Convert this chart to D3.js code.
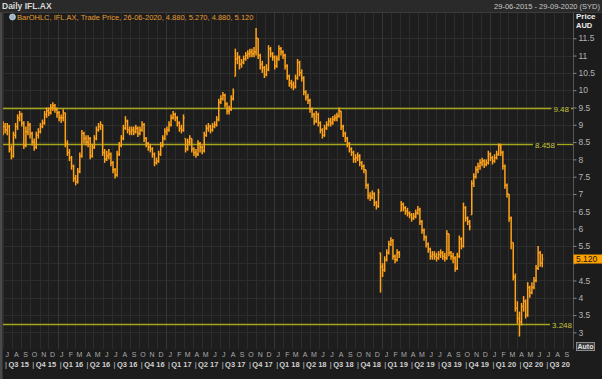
<!DOCTYPE html>
<html><head><meta charset="utf-8">
<script src="https://cdn.jsdelivr.net/npm/d3@7"></script>
<style>
html,body{margin:0;padding:0;background:#1c1c1c;}
svg{display:block;font-family:"Liberation Sans",Arial,sans-serif;}
</style></head><body>
<svg id="c" width="602" height="379"></svg>
<script>
// ---------------- data ----------------
const titleText = "Daily IFL.AX";
const rangeText = "29-06-2015 - 29-09-2020 (SYD)";
const legendText = "BarOHLC, IFL.AX, Trade Price, 26-06-2020, 4.880, 5.270, 4.880, 5.120";
const domainStart = "2015-06-29";
const domainEnd = "2020-09-29";
const firstWeek = "2015-06-29";   // one OHLC bar per week from here
const firstOpen = 8.85;
const closes = [
8.95,8.85,8.95,8.3,8.1,8.7,8.95,9.2,9.3,9.05,
8.4,8.8,9.0,8.75,8.5,8.35,8.7,8.8,8.95,9.05,
9.3,9.4,9.35,9.5,9.55,9.45,9.35,9.2,9.2,9.35,
8.45,8.2,8.05,7.8,7.45,7.35,7.65,8.1,8.75,8.6,
8.5,8.6,8.1,8.35,8.6,8.85,8.95,9.0,8.2,8.0,
8.1,8.15,7.9,7.7,7.55,8.15,8.4,8.6,8.9,9.1,
8.85,8.8,8.85,8.8,8.9,8.75,8.85,9.0,8.6,8.45,
8.35,8.3,8.15,7.9,7.95,8.15,8.4,8.6,8.8,8.85,
9.0,9.2,9.3,9.2,9.05,8.9,8.85,9.2,8.3,8.5,
8.6,8.3,8.2,8.15,8.45,8.35,8.25,8.7,8.9,8.95,
8.85,8.95,9.0,9.15,9.65,9.75,9.85,9.6,9.4,9.45,
9.75,9.95,10.9,10.95,10.75,10.8,10.9,11.0,11.05,11.1,
11.05,11.1,11.5,11.0,10.75,10.65,10.45,10.6,11.2,11.05,
10.95,10.7,10.9,11.2,11.1,11.0,10.7,10.4,10.2,10.15,
10.1,10.35,10.8,10.5,10.35,9.95,9.8,9.7,9.45,9.3,
9.1,9.3,9.05,8.85,8.7,8.9,9.0,9.1,9.05,9.15,
9.2,9.25,9.4,8.95,8.75,8.6,8.45,8.3,8.2,8.0,
8.05,8.1,7.9,7.8,7.7,7.25,6.95,6.9,7.0,6.75,
6.65,7.05,4.9,4.8,5.1,5.3,5.55,5.65,5.2,5.1,
5.3,5.25,6.7,6.6,6.5,6.45,6.4,6.3,6.35,6.45,
6.55,6.2,5.95,5.75,5.55,5.4,5.2,5.25,5.2,5.15,
5.25,5.3,5.2,5.15,5.85,5.3,5.2,5.15,4.85,5.2,
5.7,5.5,6.6,6.3,6.2,6.05,7.3,7.5,7.7,7.8,
7.9,7.95,7.85,7.9,8.15,8.05,7.95,8.05,8.15,8.4,
8.2,7.8,7.25,7.0,6.3,5.6,4.6,3.7,3.4,3.3,
3.75,3.9,3.5,4.3,4.15,4.3,4.5,4.85,5.3,5.0,
5.12];
const highs = [
9.1,9.05,9.05,9.0,8.4,8.8,9.05,9.3,9.4,9.35,
9.1,8.95,9.1,9.05,8.8,8.6,8.8,8.9,9.05,9.15,
9.4,9.5,9.5,9.6,9.65,9.6,9.5,9.4,9.3,9.45,
9.35,8.55,8.3,8.1,7.85,7.55,7.75,8.2,8.85,8.8,
8.7,8.7,8.65,8.45,8.7,8.95,9.05,9.1,9.0,8.3,
8.25,8.3,8.2,7.95,7.75,8.25,8.5,8.7,9.0,9.25,
9.15,8.95,8.95,8.95,9.0,8.95,8.95,9.1,9.05,8.65,
8.5,8.45,8.35,8.2,8.05,8.25,8.5,8.7,8.9,8.95,
9.1,9.3,9.4,9.35,9.25,9.1,9.0,9.3,8.6,8.6,
8.7,8.6,8.35,8.3,8.55,8.5,8.4,8.8,9.0,9.05,
9.0,9.05,9.1,9.25,9.75,9.85,9.95,9.9,9.65,9.55,
9.85,10.05,11.2,11.1,11.0,10.9,11.0,11.1,11.15,11.2,
11.2,11.25,11.8,11.5,11.05,10.85,10.7,10.75,11.3,11.25,
11.1,11.0,11.0,11.3,11.25,11.15,11.05,10.75,10.45,10.3,
10.25,10.45,10.9,10.85,10.6,10.4,10.0,9.9,9.75,9.5,
9.35,9.4,9.35,9.1,8.9,9.0,9.1,9.2,9.2,9.25,
9.3,9.35,9.5,9.4,9.0,8.8,8.65,8.5,8.35,8.25,
8.15,8.2,8.15,7.95,7.85,7.7,7.3,7.05,7.1,7.05,
6.8,7.15,5.3,5.0,5.2,5.4,5.65,5.75,5.7,5.25,
5.4,5.35,6.8,6.75,6.65,6.6,6.5,6.45,6.45,6.55,
6.65,6.6,6.25,6.0,5.8,5.6,5.45,5.35,5.35,5.3,
5.35,5.4,5.35,5.3,5.95,5.85,5.35,5.3,5.2,5.3,
5.8,5.75,6.75,6.65,6.35,6.25,7.4,7.6,7.8,7.9,
8.0,8.05,8.0,8.0,8.25,8.2,8.1,8.15,8.25,8.46,
8.45,8.25,7.85,7.3,7.0,6.35,5.6,4.7,3.9,3.6,
3.85,4.05,3.95,4.45,4.35,4.45,4.6,4.95,5.5,5.35,
5.27];
const lows = [
8.7,8.75,8.7,8.2,8.0,8.05,8.6,8.85,9.1,8.95,
8.3,8.35,8.7,8.6,8.4,8.25,8.3,8.6,8.75,8.9,
9.0,9.2,9.25,9.3,9.4,9.35,9.2,9.1,9.05,9.1,
8.35,8.1,7.95,7.7,7.35,7.25,7.3,7.6,8.05,8.45,
8.4,8.35,8.0,8.05,8.3,8.55,8.8,8.85,8.1,7.9,
7.95,8.0,7.8,7.6,7.45,7.5,8.1,8.35,8.55,8.85,
8.75,8.7,8.7,8.7,8.75,8.65,8.7,8.8,8.5,8.35,
8.25,8.2,8.05,7.8,7.85,7.9,8.1,8.35,8.55,8.7,
8.8,8.95,9.15,9.1,8.95,8.8,8.75,8.8,8.2,8.25,
8.4,8.2,8.1,8.05,8.1,8.2,8.15,8.2,8.65,8.8,
8.75,8.8,8.9,8.95,9.1,9.6,9.7,9.5,9.3,9.3,
9.4,9.7,10.4,10.75,10.6,10.65,10.75,10.85,10.9,10.95,
10.95,10.95,11.0,10.9,10.6,10.5,10.35,10.4,10.55,10.95,
10.85,10.6,10.65,10.85,11.0,10.9,10.6,10.3,10.1,10.05,
10.0,10.05,10.3,10.4,10.25,9.85,9.7,9.6,9.35,9.2,
9.0,9.05,8.95,8.75,8.6,8.65,8.85,8.95,8.95,9.0,
9.1,9.1,9.2,8.85,8.65,8.5,8.35,8.2,8.1,7.9,
7.9,7.95,7.8,7.7,7.6,7.15,6.85,6.8,6.85,6.65,
6.55,6.6,4.15,4.6,4.75,5.05,5.25,5.5,5.1,5.0,
5.05,5.15,6.5,6.5,6.4,6.35,6.3,6.2,6.25,6.3,
6.4,6.1,5.85,5.65,5.45,5.3,5.1,5.1,5.1,5.05,
5.1,5.15,5.1,5.05,5.1,5.2,5.1,5.0,4.75,4.8,
5.15,5.4,5.45,6.2,6.1,5.95,6.4,7.2,7.45,7.6,
7.7,7.8,7.75,7.8,7.85,7.95,7.85,7.9,8.0,8.1,
8.1,7.7,7.15,6.9,6.2,5.4,4.5,3.6,3.25,2.88,
3.2,3.6,3.4,3.45,4.0,4.1,4.25,4.45,4.8,4.9,
4.88];
const refLevels = [9.48, 8.458, 3.248];
const refLabels = ["9.48", "8.458", "3.248"];
const priceTicks = [3,3.5,4,4.5,5,5.5,6,6.5,7,7.5,8,8.5,9,9.5,10,10.5,11,11.5];
const lastPrice = 5.12;
const lastPriceLabel = "5.120";
const monthLetters = ["J","F","M","A","M","J","J","A","S","O","N","D"];

// ---------------- layout ----------------
const W = 602, H = 379;
const P = {left: 3, right: 573, top: 13, bottom: 349};
const refLabelRight = [569, 555, 572];
const COL = {bg:"#1c1c1c", plot:"#1d1d1d", grid:"#2c2c2c", gridYear:"#363636",
  bar:"#ffa31a", ref:"#a6a61c", refText:"#c4c43a", axisText:"#b4b4b4", head:"#2a2a2a"};

const parse = d3.utcParse("%Y-%m-%d");
const t0 = parse(domainStart), t1 = parse(domainEnd);
const x = d3.scaleUtc().domain([t0, t1]).range([2.5, 571]);
const y = d3.scaleLinear().domain([2.52, 12.23]).range([P.bottom, P.top]);

const svg = d3.select("#c");
svg.append("rect").attr("width", W).attr("height", H).attr("fill", COL.bg);
svg.append("rect").attr("x",0).attr("y",0).attr("width",W).attr("height",12).attr("fill",COL.head);
svg.append("line").attr("x1",0).attr("x2",W).attr("y1",12.5).attr("y2",12.5).attr("stroke","#3c3c3c");
svg.append("rect").attr("x",P.left).attr("y",P.top).attr("width",P.right-P.left).attr("height",P.bottom-P.top).attr("fill",COL.plot);

const defs = svg.append("defs");
defs.append("clipPath").attr("id","clip").append("rect")
  .attr("x",P.left).attr("y",P.top).attr("width",P.right-P.left).attr("height",P.bottom-P.top);

// grid
const grid = svg.append("g").attr("clip-path","url(#clip)");
grid.selectAll("line.h").data(priceTicks).join("line")
  .attr("x1",P.left).attr("x2",P.right)
  .attr("y1",d=>Math.round(y(d))+0.5).attr("y2",d=>Math.round(y(d))+0.5)
  .attr("stroke",COL.grid);
const months = d3.utcMonth.range(d3.utcMonth.ceil(t0), t1);
grid.selectAll("line.v").data(months).join("line")
  .attr("x1",d=>Math.round(x(d))+0.5).attr("x2",d=>Math.round(x(d))+0.5)
  .attr("y1",P.top).attr("y2",P.bottom)
  .attr("stroke",d=>d.getUTCMonth()===0?COL.gridYear:COL.grid);

// reference lines
const refG = svg.append("g");
refLevels.forEach((lv,i)=>{
  const yy = Math.round(y(lv))+0.5;
  const t = refG.append("text").attr("x",refLabelRight[i]).attr("y",yy+3)
    .attr("text-anchor","end").attr("font-size",8).attr("fill",COL.refText).text(refLabels[i]);
  const w = t.node().getComputedTextLength();
  const lx0 = refLabelRight[i]-w-2, lx1 = refLabelRight[i]+2;
  refG.append("line").attr("x1",P.left).attr("x2",lx0).attr("y1",yy).attr("y2",yy)
    .attr("stroke",COL.ref).attr("stroke-width",1.3);
  if (lx1 < P.right) refG.append("line").attr("x1",lx1).attr("x2",P.right).attr("y1",yy).attr("y2",yy)
    .attr("stroke",COL.ref).attr("stroke-width",1.3);
});

// OHLC bars
const start = parse(firstWeek);
const bars = closes.map((c,i)=>{
  const prev = i===0 ? firstOpen : closes[i-1];
  const open = Math.min(highs[i], Math.max(lows[i], prev));
  return {date: d3.utcDay.offset(start, i*7+2), open, high: highs[i], low: lows[i], close: c};
});
const barG = svg.append("g").attr("clip-path","url(#clip)")
  .attr("stroke",COL.bar).attr("stroke-width",1.5);
barG.selectAll("g").data(bars).join("g").each(function(d){
  const g = d3.select(this), cx = x(d.date);
  g.append("line").attr("x1",cx).attr("x2",cx).attr("y1",y(d.high)).attr("y2",y(d.low));
  g.append("line").attr("x1",cx-1).attr("x2",cx).attr("y1",y(d.open)).attr("y2",y(d.open));
  g.append("line").attr("x1",cx).attr("x2",cx+1).attr("y1",y(d.close)).attr("y2",y(d.close));
});

// right axis (tick label hidden where the last-price box covers it)
const ly = y(lastPrice);
const axG = svg.append("g").attr("transform",`translate(${P.right+0.5},0)`);
axG.call(d3.axisRight(y).tickValues(priceTicks).tickSize(3).tickPadding(2).tickFormat(d=>String(d)));
axG.select(".domain").attr("stroke","#555").attr("d",`M0,${P.top}V${P.bottom}`);
axG.selectAll(".tick line").attr("stroke","#888");
axG.selectAll(".tick text").attr("fill",COL.axisText).attr("font-size",8.5)
  .attr("font-family","Liberation Sans, Arial, sans-serif");
axG.selectAll(".tick").filter(d=>Math.abs(y(d)-ly)<8).select("text").remove();

// last price marker
svg.append("rect").attr("x",P.right+0.5).attr("y",ly-4.5).attr("width",W-P.right).attr("height",9).attr("fill","#ffa200");
svg.append("text").attr("x",P.right+3).attr("y",ly+3.2).attr("font-size",8.5).attr("fill","#1a1a1a").text(lastPriceLabel);

// Auto button
svg.append("rect").attr("x",576.5).attr("y",342.5).attr("width",18).attr("height",8).attr("fill","#3a3a3a").attr("stroke","#8a8a8a");
svg.append("text").attr("x",585.5).attr("y",349).attr("text-anchor","middle").attr("font-size",7).attr("font-weight","bold").attr("fill","#e0e0e0").text("Auto");

// header texts
svg.append("text").attr("x",2).attr("y",9).attr("font-size",8.5).attr("font-weight","bold").attr("fill","#d8d8d8").text(titleText);
svg.append("text").attr("x",600).attr("y",9).attr("text-anchor","end").attr("font-size",7.5).attr("fill","#c8c8c8").text(rangeText);
svg.append("text").attr("x",576).attr("y",19).attr("font-size",8).attr("font-weight","bold").attr("fill","#ececec").text("Price");
svg.append("text").attr("x",576).attr("y",27.5).attr("font-size",7.5).attr("font-weight","bold").attr("fill","#ececec").text("AUD");
svg.append("circle").attr("cx",12.5).attr("cy",17).attr("r",3).attr("fill","#9fb3c8").attr("stroke","#dfe6ee").attr("stroke-width",0.6);
svg.append("text").attr("x",17).attr("y",20).attr("font-size",7.5).attr("fill","#e39c2e").text(legendText);

// bottom axis: month letters
svg.append("g").selectAll("text").data(months).join("text")
  .attr("x",d=>x(d3.utcDay.offset(d,14))).attr("y",357).attr("text-anchor","middle")
  .attr("font-size",7).attr("fill","#aaaaaa").text(d=>monthLetters[d.getUTCMonth()]);
// quarters
const quarters = [d3.utcMonth.floor(t0)].concat(d3.utcMonth.every(3).range(d3.utcMonth.ceil(t0), t1)).filter(d=>d.getUTCMonth()%3===0);
const qG = svg.append("g").attr("font-size",7.5).attr("font-weight","bold").attr("fill","#cfcfcf");
quarters.forEach((q,i)=>{
  const qs = i===0 ? d3.utcMonth.offset(d3.utcMonth.floor(t0),1) : q;
  const qe = i+1<quarters.length ? quarters[i+1] : t1;
  const label = "Q"+(Math.floor(qs.getUTCMonth()/3)+1)+" "+String(qs.getUTCFullYear()).slice(2);
  qG.append("text").attr("x",x(qs)+3).attr("y",367).attr("text-anchor","middle").attr("font-weight","normal").text("|");
  qG.append("text").attr("x",(x(qs)+x(qe))/2+2).attr("y",367).attr("text-anchor","middle").text(label);
});

// left strip
svg.append("rect").attr("x",0).attr("y",13).attr("width",2.5).attr("height",H-13).attr("fill","#4a4a4a");
</script>
</body></html>
